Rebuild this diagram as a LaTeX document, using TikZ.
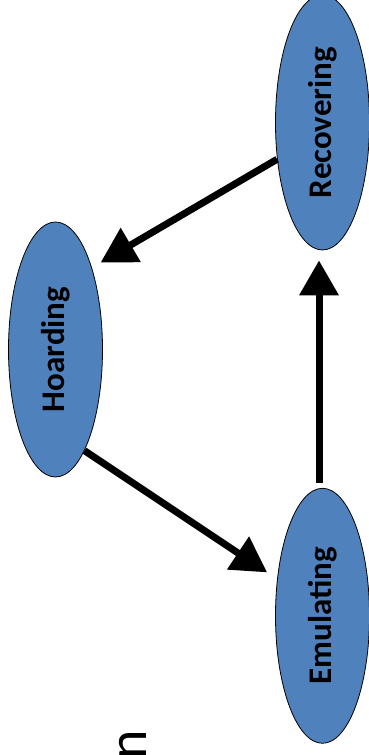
\documentclass[tikz,border=0pt]{standalone}
\usepackage{fontspec}
\setmainfont{Carlito}
\usetikzlibrary{shapes.geometric,arrows.meta,positioning}
\definecolor{phaseblue}{HTML}{4F81BD}

\begin{document}
\begin{tikzpicture}[x=1pt,y=1pt,
	phase/.style={ellipse,draw,line width=0.8pt,fill=phaseblue,minimum width=94pt,minimum height=255pt,inner sep=0pt,font=\bfseries\fontsize{33}{40}\selectfont},
	arr/.style={line width=7pt,-{Triangle[length=35pt,width=38pt]}}]
		\useasboundingbox (0,0) rectangle (369,755);
		\node[phase] (x1) at (55.5,405.5) {\rotatebox{90}{Hoarding}};
		\node[phase] (x2) at (322.5,632.5) {\rotatebox{90}{Recovering}};
		\node[phase] (x3) [below=237.5pt of x2] {\rotatebox{90}{Emulating}};
		\draw[arr,shorten >=10pt] (x2.219) -- (x1.66);
		\draw[arr,shorten >=12pt] (x1.286) -- (x3.141);
		\draw[arr,shorten <=5pt,shorten >=10pt] ([xshift=-3.5pt]x3.north) -- ([xshift=-3.5pt]x2.south);
		
		\node[rotate=90,anchor=base west,inner sep=0pt,font=\fontsize{56}{60}\selectfont] (x4) at (146,-5) {n};
		\end{tikzpicture}
\end{document}
